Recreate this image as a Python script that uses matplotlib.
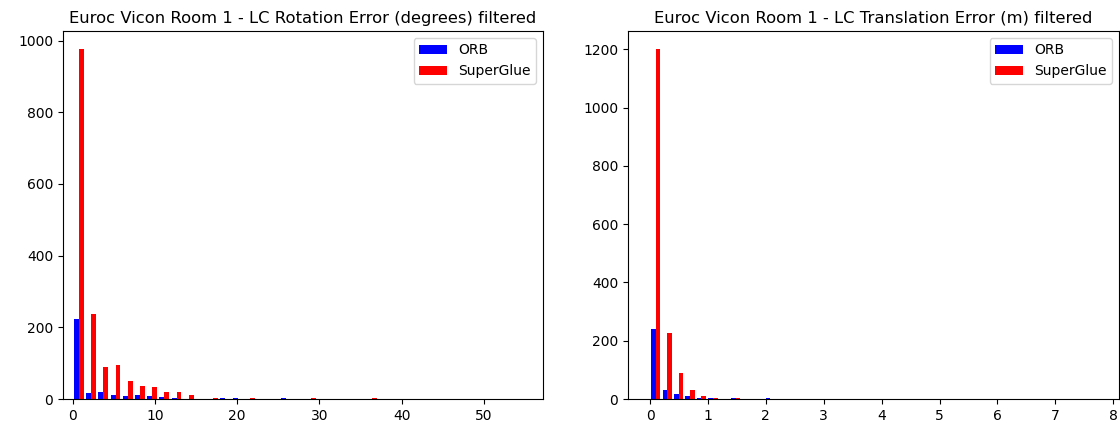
import numpy as np
import matplotlib
matplotlib.use("Agg")
import matplotlib.pyplot as plt

# histogram counts (one value per bin)
rot_orb = [223, 16, 19, 10, 7, 10, 7, 5, 4, 0, 0, 0, 2, 2, 0, 0, 0, 2, 0, 0,
           0, 0, 0, 0, 0, 0, 0, 0, 0, 0, 0, 0, 0, 0, 0, 0, 0]
rot_sg = [978, 237, 88, 94, 50, 35, 33, 19, 19, 10, 0, 2, 0, 0, 2, 0, 0, 0, 0, 2,
          0, 0, 0, 0, 2, 0, 0, 0, 0, 0, 0, 0, 0, 0, 0, 0, 1]
rot_max = 54.9

trans_orb = [241, 31, 16, 9, 2, 2, 0, 2, 0, 0, 2, 0, 0, 0, 0, 0, 0, 0, 0, 0, 0,
             0, 0, 0, 0, 0, 0, 0, 0, 0, 0, 0, 0, 0, 0, 0, 0, 0, 0, 0, 0, 0]
trans_sg = [1203, 228, 88, 31, 10, 2, 0, 2, 0, 0, 0, 0, 0, 0, 0, 0, 0, 0, 0, 0, 0,
            0, 0, 0, 0, 0, 0, 0, 0, 0, 0, 0, 0, 0, 0, 0, 0, 0, 0, 0, 0, 1]
trans_max = 8.3

labels = ['ORB', 'SuperGlue']
colors = ['blue', 'red']


def plot_hist(ax, orb, sg, top, title):
    edges = np.linspace(0, top, len(orb) + 1)
    centers = (edges[:-1] + edges[1:]) / 2
    ax.hist([centers, centers], bins=edges, weights=[orb, sg],
            color=colors, label=labels)
    ax.set_title(title, fontsize=11.8)
    ax.legend(loc='upper right')


fig = plt.figure(figsize=(11.2, 4.23), dpi=100)
ax1 = fig.add_axes([63 / 1120, 24 / 423, 480 / 1120, 368 / 423])
ax2 = fig.add_axes([628 / 1120, 24 / 423, 491 / 1120, 368 / 423])

plot_hist(ax1, rot_orb, rot_sg, rot_max,
          'Euroc Vicon Room 1 - LC Rotation Error (degrees) filtered')
ax1.set_xlim(-1.2, 57.2)

plot_hist(ax2, trans_orb, trans_sg, trans_max,
          'Euroc Vicon Room 1 - LC Translation Error (m) filtered')
ax2.set_xlim(-0.38, 8.1)

fig.savefig('out.png', dpi=100)
